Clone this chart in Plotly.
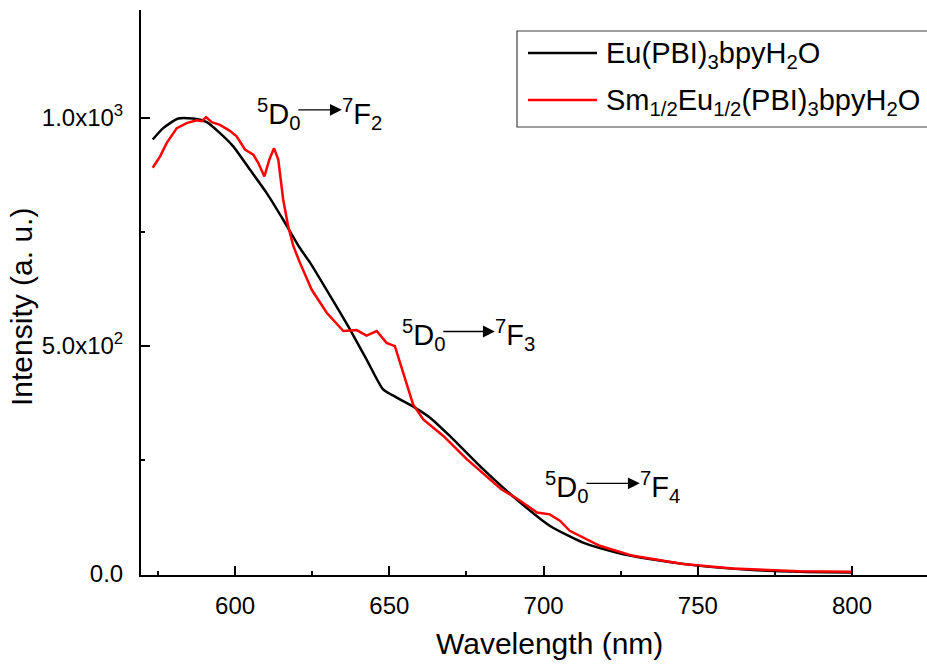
import plotly.graph_objects as go

# ---- data ----
eu_x = [573.3, 576.7, 581.6, 587.5, 590.8, 595.1, 599.4, 604.8, 610.2, 615.6, 621.0, 624.3,
        631.8, 637.2, 642.6, 648.0, 652.4, 658.8, 663.2, 669.6, 680.4, 691.2, 702.0, 712.8,
        723.6, 734.4, 750.6, 766.8, 783.0, 800.0]
eu_y = [953, 978, 999, 998, 991, 967, 938, 887, 836, 777, 715, 683,
        599, 537, 471, 405, 387, 363, 343, 303, 230, 164, 106, 69,
        47.5, 33, 18, 9.5, 5, 3.6]

sm_x = [573.3, 575.7, 577.8, 581.1, 584.3, 587.5, 589.2, 590.6, 592.4, 595.1, 598.3, 600.5,
        603.2, 605.9, 607.5, 609.5, 611.1, 612.6, 614.0, 615.6, 617.2, 618.9, 621.0, 624.8,
        629.7, 635.1, 639.4, 642.6, 645.9, 649.1, 651.8, 654.5, 657.7, 661.0, 667.5, 675.1,
        686.3, 691.7, 697.9, 702.0, 705.3, 708.5, 718.2, 729.0, 745.2, 761.4, 783.0, 800.0]
sm_y = [891, 916, 945, 978, 989, 995, 993, 1002, 991, 985, 972, 960,
        931, 920, 902, 872, 909, 934, 909, 821, 763, 719, 683, 624,
        573, 533, 535, 523, 533, 507, 500, 442, 372, 339, 303, 252,
        186, 164, 135, 131, 117, 95, 62, 40, 22, 12.4, 6, 5]

series_names = ["Eu(PBI)<sub>3</sub>bpyH<sub>2</sub>O",
                "Sm<sub>1/2</sub>Eu<sub>1/2</sub>(PBI)<sub>3</sub>bpyH<sub>2</sub>O"]
series_colors = ["#000000", "#ff0000"]

x_ticks = [600, 650, 700, 750, 800]
y_ticks = [0, 500, 1000]
y_ticktext = ["0.0", "5.0x10<sup>2</sup>", "1.0x10<sup>3</sup>"]
x_title = "Wavelength (nm)"
y_title = "Intensity (a. u.)"

# transitions: (label left, label right, arrow tail x, arrow head x, y)
transitions = [
    ("<sup>5</sup>D<sub>0</sub>", "<sup>7</sup>F<sub>2</sub>", 620.0, 634.6, 1018),
    ("<sup>5</sup>D<sub>0</sub>", "<sup>7</sup>F<sub>3</sub>", 667.0, 684.2, 532),
    ("<sup>5</sup>D<sub>0</sub>", "<sup>7</sup>F<sub>4</sub>", 713.4, 731.2, 199),
]

FONT = "Arial, 'Liberation Sans', sans-serif"

fig = go.Figure()
fig.add_trace(go.Scatter(x=eu_x, y=eu_y, mode="lines", name=series_names[0],
                         line=dict(color=series_colors[0], width=2.5, shape="spline", smoothing=0.6),
                         showlegend=False))
fig.add_trace(go.Scatter(x=sm_x, y=sm_y, mode="lines", name=series_names[1],
                         line=dict(color=series_colors[1], width=2.5),
                         showlegend=False))

annotations = []
for left, right, xt, xh, yy in transitions:
    annotations.append(dict(x=xh, y=yy, ax=xt, ay=yy, xref="x", yref="y", axref="x", ayref="y",
                            text="", showarrow=True, arrowhead=2, arrowsize=1.7,
                            arrowwidth=1.4, arrowcolor="black"))
    annotations.append(dict(x=xt, y=yy, xref="x", yref="y", text=left, showarrow=False,
                            xanchor="right", yanchor="middle", xshift=6, yshift=-4,
                            font=dict(family=FONT, size=29, color="black")))
    annotations.append(dict(x=xh, y=yy, xref="x", yref="y", text=right, showarrow=False,
                            xanchor="left", yanchor="middle", xshift=-2, yshift=-4,
                            font=dict(family=FONT, size=29, color="black")))

# manual legend (box, line samples, labels) in paper coordinates
W, H = 927, 664
ml, mr, mt, mb = 141, 0, 10, 89
pw, ph = W - ml - mr, H - mt - mb
def px(xpix):
    return (xpix - ml) / pw
def py(ypix):
    return (H - mb - ypix) / ph

shapes = [dict(type="rect", xref="paper", yref="paper", x0=px(517), x1=px(940), y0=py(127), y1=py(31),
               line=dict(color="#404040", width=1.2), fillcolor="rgba(0,0,0,0)")]
legend_rows = [53, 100]
for i, yrow in enumerate(legend_rows):
    shapes.append(dict(type="line", xref="paper", yref="paper", x0=px(528), x1=px(597),
                       y0=py(yrow), y1=py(yrow), line=dict(color=series_colors[i], width=2.5)))
    annotations.append(dict(x=px(604), y=py(yrow), xref="paper", yref="paper", text=series_names[i],
                            showarrow=False, xanchor="left", yanchor="middle", yshift=-2,
                            font=dict(family=FONT, size=29, color="black")))

# axis titles
annotations.append(dict(x=px(549), y=py(643), xref="paper", yref="paper", text=x_title,
                        showarrow=False, xanchor="center", yanchor="middle",
                        font=dict(family=FONT, size=30, color="black")))
annotations.append(dict(x=px(21), y=py(307), xref="paper", yref="paper", text=y_title,
                        showarrow=False, xanchor="center", yanchor="middle", textangle=-90,
                        font=dict(family=FONT, size=30, color="black")))

fig.update_layout(
    width=W, height=H,
    margin=dict(l=ml, r=mr, t=mt, b=mb, autoexpand=False),
    paper_bgcolor="white", plot_bgcolor="white",
    font=dict(family=FONT, color="black"),
    shapes=shapes, annotations=annotations,
    showlegend=False,
)
fig.update_xaxes(
    range=[569.5, 824.3], tickmode="array", tickvals=x_ticks, automargin=False,
    ticks="inside", ticklen=9, tickwidth=2, tickcolor="black",
    showline=True, linecolor="black", linewidth=2, mirror=False,
    showgrid=False, zeroline=False,
    tickfont=dict(family=FONT, size=24, color="black"), ticklabelstandoff=8,
    minor=dict(tickvals=[575, 625, 675, 725, 775], ticks="inside", ticklen=4, tickwidth=2, tickcolor="black"),
)
fig.update_yaxes(
    range=[-2, 1237], tickmode="array", tickvals=y_ticks, ticktext=y_ticktext, automargin=False,
    ticks="inside", ticklen=9, tickwidth=2, tickcolor="black",
    showline=True, linecolor="black", linewidth=2, mirror=False,
    showgrid=False, zeroline=False,
    tickfont=dict(family=FONT, size=24, color="black"), ticklabelstandoff=11,
    minor=dict(tickvals=[250, 750], ticks="inside", ticklen=4, tickwidth=2, tickcolor="black"),
)

fig.write_html("out.html", config={"displayModeBar": False},
               post_script="document.body.style.margin='0px';document.body.style.padding='0px';")
